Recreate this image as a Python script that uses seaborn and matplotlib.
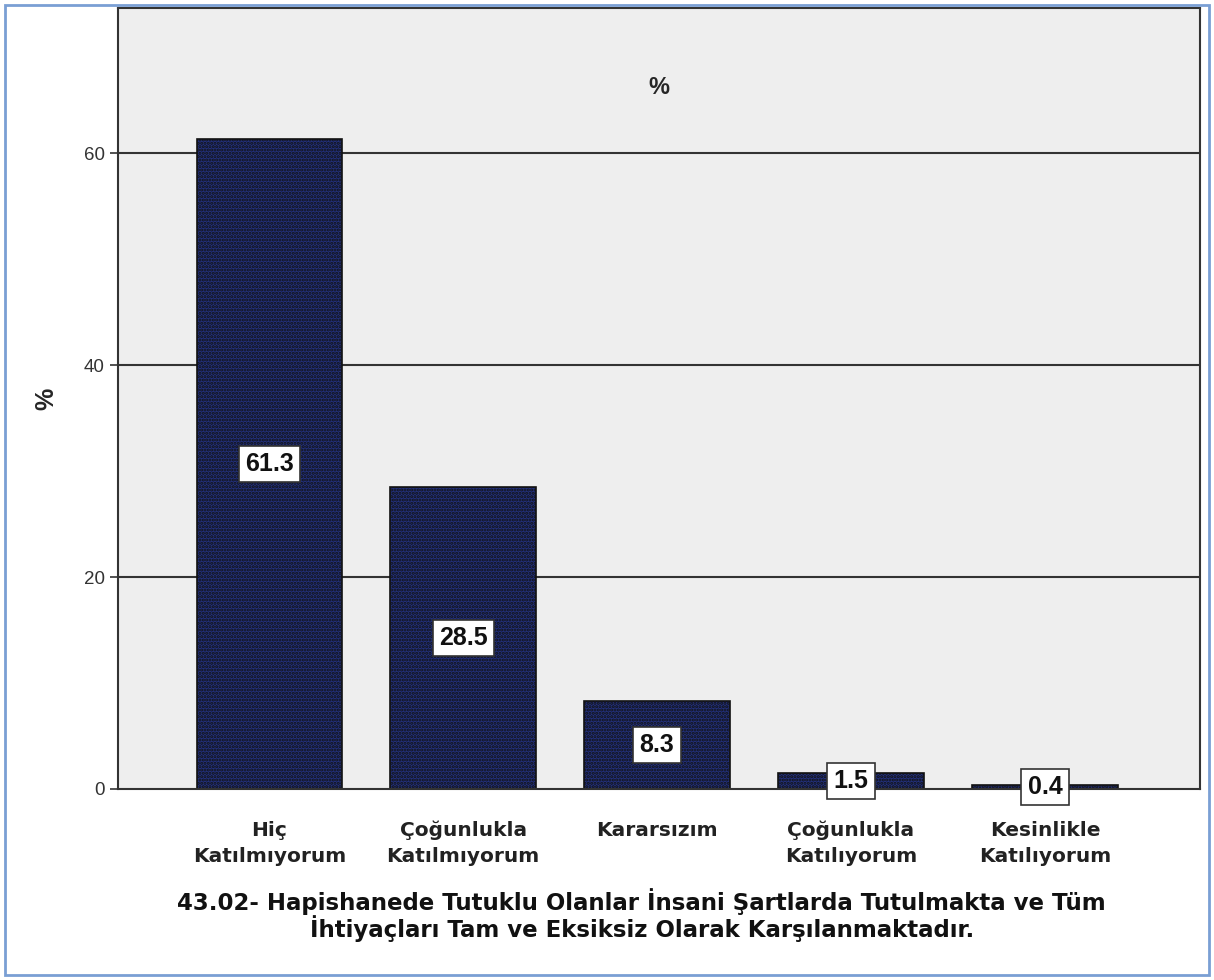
import matplotlib
matplotlib.use("Agg")
import matplotlib.pyplot as plt
import seaborn as sns
import pandas as pd
from matplotlib.patches import Rectangle

# veriler
kategoriler = ["Hiç\nKatılmıyorum", "Çoğunlukla\nKatılmıyorum", "Kararsızım",
               "Çoğunlukla\nKatılıyorum", "Kesinlikle\nKatılıyorum"]
yuzdeler = [61.3, 28.5, 8.3, 1.5, 0.4]
etiketler = ["61.3", "28.5", "8.3", "1.5", "0.4"]

tablo = pd.DataFrame({"kategori": kategoriler, "yuzde": yuzdeler})

sns.set_style("white")
plt.rcParams["font.family"] = ["Liberation Sans", "DejaVu Sans"]
plt.rcParams["hatch.color"] = "#6a82f5"
plt.rcParams["hatch.linewidth"] = 1.5

fig = plt.figure(figsize=(12.14, 9.8), dpi=100)
ax = fig.add_axes([0.0972, 0.1949, 0.8913, 0.7969])
ax.set_facecolor("#eeeeee")

sns.barplot(data=tablo, x="kategori", y="yuzde", ax=ax, width=0.75,
            color="#22307c", saturation=1, edgecolor="#111111", linewidth=1.2)
for b in ax.patches:
    b.set_hatch(".....")

ax.set_xlim(-0.78, 4.8)
ax.set_ylim(0, 73.7)
ax.set_yticks([0, 20, 40, 60])
ax.set_yticklabels(["0", "20", "40", "60"], fontsize=13.5, color="#333333")

for y in [20, 40, 60]:
    ax.axhline(y, color="#333333", lw=1.5, zorder=0.5)

# çubuk ortasında değer kutuları
for i, (v, t) in enumerate(zip(yuzdeler, etiketler)):
    ax.text(i, max(v / 2, 0.2), t, ha="center", va="center", fontsize=18,
            fontweight="bold", color="#111111", zorder=5,
            bbox=dict(boxstyle="square,pad=0.25", fc="white", ec="#333333", lw=1.2))

ax.tick_params(axis="x", length=13, width=1.2, color="#333333", pad=10)
ax.tick_params(axis="y", length=6, width=1.2, color="#333333", left=True)
for lbl in ax.get_xticklabels():
    lbl.set_family("DejaVu Sans")
    lbl.set_fontweight("bold")
    lbl.set_fontsize(14.5)
    lbl.set_linespacing(1.45)
    lbl.set_color("#222222")

for s in ax.spines.values():
    s.set_color("#333333")
    s.set_linewidth(1.5)

ax.set_ylabel("%", fontsize=18, fontweight="bold", labelpad=18)
ax.set_xlabel("43.02- Hapishanede Tutuklu Olanlar İnsani Şartlarda Tutulmakta ve Tüm\n"
              "İhtiyaçları Tam ve Eksiksiz Olarak Karşılanmaktadır.",
              fontsize=16.5, fontweight="bold", labelpad=16, linespacing=1.0,
              family="DejaVu Sans", color="#111111")
ax.xaxis.label.set_x(0.484)
ax.text(0.5, 0.898, "%", transform=ax.transAxes, ha="center", va="center",
        fontsize=17, fontweight="bold")

# mavi çerçeve
fig.patches.append(Rectangle((0.004, 0.005), 0.992, 0.99, transform=fig.transFigure,
                             fill=False, ec="#7a9fd4", lw=2))

fig.savefig("out.png", dpi=100)
